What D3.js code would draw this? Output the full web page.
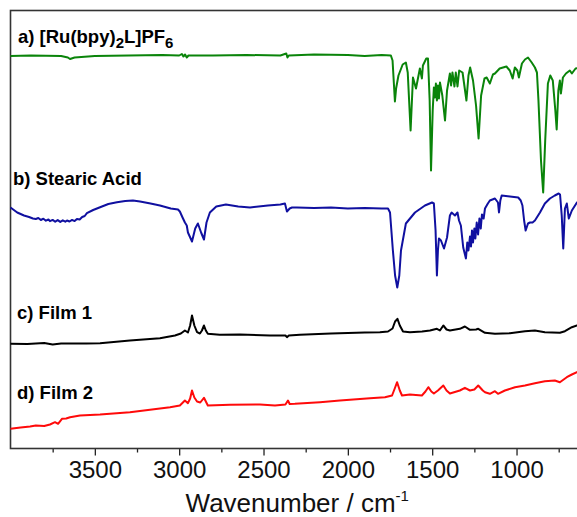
<!DOCTYPE html>
<html>
<head>
<meta charset="utf-8">
<script src="https://cdn.jsdelivr.net/npm/d3@7"></script>
<style>
  body { margin: 0; background: #fff; }
  svg { display: block; font-family: "Liberation Sans", Arial, sans-serif; }
</style>
</head>
<body>
<div id="chart"></div>
<script>
// 1. DATA (wavenumber in cm-1, signal in a.u. with stacking offset)
// ======================================
var ruComplex = [
  [4000, 392.5], [3880, 393], [3700, 392.5], [3660, 391], [3647, 389.5], [3620, 391],
  [3500, 392.5], [3300, 393], [3100, 393.5], [3000, 393], [2984, 394.5], [2975, 392],
  [2965, 394], [2955, 391], [2945, 393], [2800, 393], [2600, 393.5], [2400, 393],
  [2365, 395], [2358, 391], [2350, 393], [2200, 394], [2000, 393.5], [1900, 392.5],
  [1800, 393.5], [1745, 393], [1735, 388], [1721, 347], [1714, 360], [1700, 373],
  [1675, 384], [1656, 386], [1645, 376], [1628, 318], [1614, 371], [1596, 360],
  [1573, 380], [1561, 370], [1555, 383], [1535, 390], [1525, 390], [1515, 348],
  [1507, 278], [1497, 338], [1490, 361], [1484, 351], [1478, 365], [1472, 348],
  [1466, 363], [1460, 350], [1454, 366], [1440, 353], [1424, 328], [1412, 358],
  [1395, 375], [1388, 363], [1380, 376], [1368, 362], [1360, 376], [1350, 362],
  [1340, 378], [1320, 376], [1297, 348], [1285, 373], [1275, 381], [1258, 368],
  [1240, 343], [1225, 310], [1210, 353], [1190, 370], [1177, 371], [1158, 365],
  [1140, 374], [1128, 375], [1100, 380], [1080, 381], [1060, 382], [1040, 378],
  [1023, 370], [1010, 381], [995, 378], [986, 371], [968, 385], [950, 389],
  [932, 391], [910, 386], [891, 381], [879, 376], [870, 348], [855, 288],
  [842, 256], [830, 308], [814, 365], [800, 373], [785, 368], [770, 338],
  [762, 319], [752, 358], [743, 368], [737, 355], [725, 371], [707, 375],
  [684, 378], [672, 375], [650, 380], [600, 382]
];

var stearicAcid = [
  [4000, 241], [3960, 236], [3920, 233], [3890, 231.5], [3867, 230], [3850, 229.5],
  [3835, 230.5], [3820, 228.5], [3805, 229.8], [3790, 227.8], [3775, 229], [3766, 227.3],
  [3750, 228.6], [3735, 226.8], [3720, 228.4], [3705, 226.6], [3690, 228.2], [3675, 226.8],
  [3665, 228], [3650, 227], [3635, 228.6], [3620, 227.4], [3606, 229.6], [3590, 229],
  [3575, 231.5], [3560, 232.5], [3547, 235.3], [3510, 238.5], [3469, 241.3], [3420, 244.5],
  [3369, 246.3], [3320, 247.5], [3274, 248], [3232, 247], [3170, 245], [3114, 243],
  [3050, 240], [3007, 239], [2996, 237],
  [2980, 231], [2966, 226], [2955, 223], [2948, 216], [2924, 207], [2905, 220],
  [2889, 225], [2870, 216], [2853, 209], [2838, 226], [2818, 236], [2780, 242],
  [2723, 244], [2650, 242], [2580, 241], [2474, 243], [2400, 244], [2373, 245],
  [2361, 237], [2345, 240], [2331, 241], [2302, 241], [2200, 240.5], [2100, 241],
  [2000, 240], [1900, 240.5], [1800, 240], [1762, 240], [1750, 236], [1733, 198],
  [1720, 173], [1707, 161], [1695, 173], [1685, 198], [1656, 225], [1602, 236],
  [1543, 243], [1501, 246], [1490, 245], [1480, 218], [1472, 173], [1466, 198],
  [1460, 210], [1448, 208], [1430, 200], [1412, 211], [1395, 233], [1385, 236],
  [1365, 233], [1350, 236], [1341, 228], [1330, 223], [1316, 201], [1300, 190],
  [1292, 206], [1285, 198], [1276, 212], [1270, 202], [1264, 218], [1258, 206],
  [1250, 220], [1244, 210], [1236, 226], [1228, 214], [1220, 230], [1212, 220],
  [1205, 234], [1195, 230], [1187, 240], [1170, 245], [1158, 248], [1128, 250],
  [1110, 246], [1104, 236], [1096, 248], [1088, 253], [1039, 252], [990, 251],
  [975, 248], [965, 243], [955, 228], [946, 218], [932, 225], [920, 226],
  [905, 226], [891, 228], [861, 236], [832, 245], [802, 250], [773, 253],
  [750, 255], [742, 254], [732, 233], [723, 200], [716, 228], [713, 240],
  [702, 245], [690, 230], [672, 238], [642, 246], [600, 249]
];

var film1 = [
  [4000, 104.7], [3900, 104.5], [3800, 105.5], [3750, 104], [3700, 105], [3550, 105],
  [3469, 105.3], [3292, 108], [3114, 110.3], [3025, 113], [2990, 115], [2966, 118],
  [2948, 116], [2935, 123], [2924, 133], [2910, 123], [2894, 116.3], [2877, 115],
  [2865, 118], [2853, 123], [2842, 118], [2830, 114.7], [2759, 113.7], [2640, 114],
  [2462, 113], [2370, 113], [2361, 111.3], [2350, 113], [2284, 113.7], [2100, 115],
  [1900, 116], [1810, 116.3], [1762, 117], [1735, 120], [1720, 127], [1706, 129.7],
  [1692, 123], [1673, 117], [1632, 116.3], [1560, 117], [1513, 118], [1472, 119.7],
  [1454, 118], [1434, 123], [1415, 119], [1395, 118], [1336, 119.7], [1306, 122],
  [1276, 118.7], [1240, 119], [1227, 119.7], [1187, 115.7], [1128, 114.7], [1039, 115.3],
  [950, 117.3], [891, 118], [832, 116.3], [743, 115.7], [713, 117.3], [672, 121.3],
  [642, 123], [600, 125]
];

var film2 = [
  [4000, 19.7], [3940, 21], [3884, 22], [3850, 23], [3800, 22.5], [3766, 24],
  [3736, 26.3], [3718, 24.7], [3695, 29.7], [3670, 30], [3647, 31.3], [3588, 33],
  [3469, 34], [3292, 36.3], [3173, 38.7], [3054, 41.3], [2996, 43], [2966, 48],
  [2948, 45.3], [2935, 50], [2924, 58], [2910, 51], [2894, 47], [2875, 46],
  [2853, 50.7], [2830, 43], [2699, 43.7], [2521, 44], [2432, 43], [2370, 44],
  [2355, 48], [2345, 44.5], [2314, 44.7], [2165, 46.3], [2047, 48], [1869, 50.3],
  [1780, 51.3], [1738, 53], [1722, 60], [1708, 66.3], [1692, 58], [1679, 53],
  [1632, 54], [1561, 53], [1540, 57], [1523, 61.3], [1505, 57], [1490, 55],
  [1466, 58], [1434, 63], [1415, 58], [1395, 55], [1336, 58], [1306, 60.7],
  [1276, 58], [1250, 59], [1227, 63], [1200, 58], [1187, 56.3], [1158, 54.7],
  [1128, 57.3], [1110, 54.7], [1069, 58], [1009, 61.3], [950, 63], [891, 65.3],
  [832, 67.3], [773, 68], [743, 66.3], [702, 71.3], [672, 74], [642, 76.3], [600, 79]
];

var majorTicks = [3500, 3000, 2500, 2000, 1500, 1000];
var minorTicks = [3750, 3250, 2750, 2250, 1750, 1250, 750];

// 2. SET UP SVG
// ======================================
var svgWidth = 577;
var svgHeight = 517;

var plot = { left: 10.5, right: 584, top: 10.5, bottom: 448.5 };

var svg = d3.select("#chart")
  .append("svg")
  .attr("width", svgWidth)
  .attr("height", svgHeight);

var xScale = d3.scaleLinear()
  .domain([4000, 600])
  .range([plot.left, plot.right]);

var yScale = d3.scaleLinear()
  .domain([0, 438])
  .range([plot.bottom, plot.top]);

// 3. AXES
// ======================================
var minorAxis = d3.axisBottom(xScale)
  .tickValues(minorTicks)
  .tickSize(4)
  .tickSizeOuter(0)
  .tickFormat("");

var majorAxis = d3.axisBottom(xScale)
  .tickValues(majorTicks)
  .tickSize(7)
  .tickSizeOuter(0)
  .tickPadding(5)
  .tickFormat(d3.format("d"));

svg.append("g")
  .attr("transform", `translate(0, ${plot.bottom})`)
  .call(minorAxis)
  .call(g => g.select(".domain").remove())
  .selectAll("line").attr("stroke", "#222").attr("stroke-width", 1.3);

var xAxisG = svg.append("g")
  .attr("transform", `translate(0, ${plot.bottom})`)
  .call(majorAxis);

xAxisG.select(".domain").remove();
xAxisG.selectAll("line").attr("stroke", "#222").attr("stroke-width", 1.3);
xAxisG.selectAll("text")
  .attr("fill", "#111")
  .style("font-size", "24px")
  .style("font-family", "'Liberation Sans', Arial, sans-serif");

// frame (right side falls outside the picture)
svg.append("rect")
  .attr("x", plot.left)
  .attr("y", plot.top)
  .attr("width", plot.right - plot.left)
  .attr("height", plot.bottom - plot.top)
  .attr("fill", "none")
  .attr("stroke", "#333")
  .attr("stroke-width", 1.6);

// axis title
var title = svg.append("text")
  .attr("x", (plot.left + plot.right) / 2)
  .attr("y", 512)
  .attr("text-anchor", "middle")
  .attr("fill", "#111")
  .style("font-size", "26px");
title.append("tspan").text("Wavenumber / cm");
title.append("tspan").attr("dy", -11).style("font-size", "15px").text("-1");

// 4. SPECTRA
// ======================================
var line = d3.line()
  .x(d => xScale(d[0]))
  .y(d => yScale(d[1]));

var spectra = [
  { data: ruComplex, color: "#0a840a" },
  { data: stearicAcid, color: "#1010a0" },
  { data: film1, color: "#000000" },
  { data: film2, color: "#ff0a0a" }
];

svg.append("g").selectAll("path")
  .data(spectra)
  .enter()
  .append("path")
  .attr("d", d => line(d.data))
  .attr("fill", "none")
  .attr("stroke", d => d.color)
  .attr("stroke-width", 2)
  .attr("stroke-linejoin", "round");

// 5. LABELS
// ======================================
var labelFont = "18.5px";

var labelA = svg.append("text")
  .attr("x", 18).attr("y", 43)
  .style("font-size", labelFont).style("font-weight", "bold");
labelA.append("tspan").text("a) [Ru(bpy)");
labelA.append("tspan").attr("dy", 5).style("font-size", "15px").text("2");
labelA.append("tspan").attr("dy", -5).text("L]PF");
labelA.append("tspan").attr("dy", 5).style("font-size", "15px").text("6");

svg.append("text")
  .attr("x", 13).attr("y", 185)
  .style("font-size", labelFont).style("font-weight", "bold")
  .text("b) Stearic Acid");

svg.append("text")
  .attr("x", 17).attr("y", 319)
  .style("font-size", labelFont).style("font-weight", "bold")
  .text("c) Film 1");

svg.append("text")
  .attr("x", 17).attr("y", 399)
  .style("font-size", labelFont).style("font-weight", "bold")
  .text("d) Film 2");
</script>
</body>
</html>
